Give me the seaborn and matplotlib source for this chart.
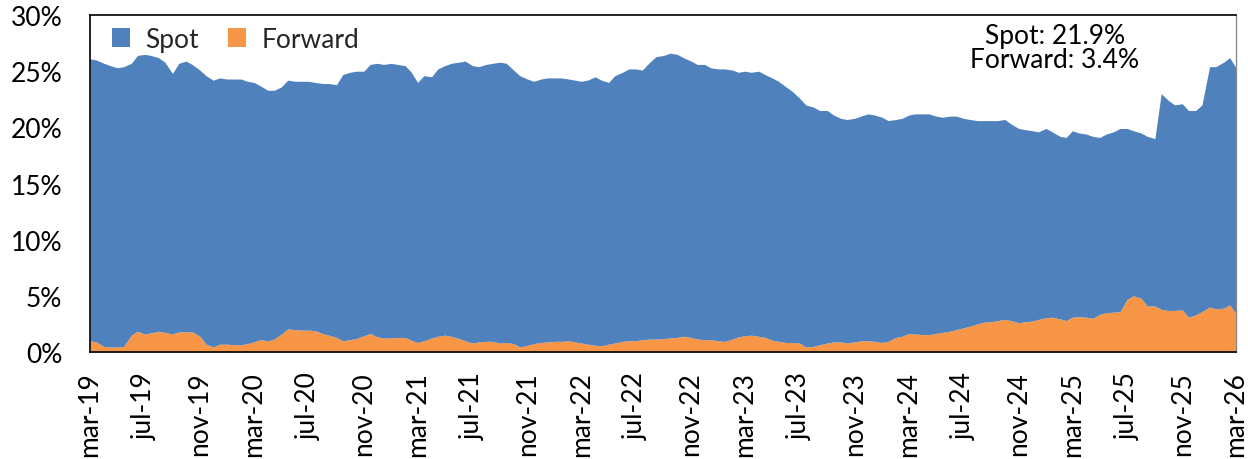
import numpy as np
import pandas as pd
import matplotlib
matplotlib.use("Agg")
import matplotlib.pyplot as plt
import seaborn as sns

# Semi-monthly observations, Mar-2019 .. Mar-2026 (share of total, %)
dates = pd.date_range("2019-03-01", "2026-03-01", freq="SMS")

spot = [
    25.1, 25.1, 25.2, 25.05, 24.85, 24.9, 24.2, 24.55, 24.9, 24.7,
    24.35, 24.05, 23.2, 23.9, 24.1, 23.8, 23.7, 23.9, 23.75, 23.7,
    23.6, 23.65, 23.65, 23.35, 23.1, 22.6, 22.3, 22.15, 22.0, 22.15,
    22.1, 22.15, 22.15, 22.1, 22.25, 22.4, 22.5, 23.7, 23.8, 23.8,
    23.55, 23.95, 24.35, 24.35, 24.45, 24.3, 24.2, 23.85, 23.15, 23.6,
    23.25, 23.8, 24.0, 24.3, 24.6, 24.9, 24.7, 24.5, 24.65, 24.75,
    25.0, 24.85, 24.35, 24.15, 23.7, 23.35, 23.45, 23.5, 23.45, 23.45,
    23.3, 23.3, 23.3, 23.5, 23.9, 23.65, 23.3, 23.8, 23.95, 24.2,
    24.2, 24.0, 24.65, 25.15, 25.2, 25.35, 25.2, 24.8, 24.6, 24.45,
    24.5, 24.2, 24.2, 24.25, 23.95, 23.55, 23.55, 23.4, 23.6, 23.4,
    23.35, 23.15, 22.75, 22.35, 21.8, 21.55, 21.3, 20.85, 20.7, 20.2,
    19.9, 19.9, 19.9, 20.0, 20.2, 20.15, 20.05, 19.65, 19.4, 19.4,
    19.45, 19.6, 19.65, 19.65, 19.35, 19.15, 19.15, 19.0, 18.65, 18.4,
    18.1, 17.95, 17.9, 17.8, 17.8, 17.5, 17.3, 17.1, 16.95, 16.7,
    16.85, 16.5, 16.25, 16.3, 16.6, 16.35, 16.3, 16.2, 15.75, 15.9,
    16.05, 16.3, 15.2, 14.7, 14.7, 15.1, 14.9, 19.2, 18.7, 18.3,
    18.35, 18.4, 18.2, 18.4, 21.4, 21.55, 21.9, 22.0, 21.9,
]

forward = [
    1.0, 0.9, 0.5, 0.45, 0.45, 0.5, 1.5, 1.85, 1.6, 1.7,
    1.85, 1.75, 1.6, 1.8, 1.8, 1.8, 1.4, 0.7, 0.45, 0.7,
    0.7, 0.65, 0.65, 0.75, 0.9, 1.1, 1.0, 1.15, 1.6, 2.05,
    2.0, 1.95, 1.95, 1.9, 1.65, 1.5, 1.3, 1.0, 1.1, 1.2,
    1.45, 1.65, 1.35, 1.25, 1.25, 1.3, 1.3, 1.05, 0.85, 1.0,
    1.25, 1.4, 1.5, 1.4, 1.2, 1.0, 0.8, 0.9, 0.95, 0.95,
    0.8, 0.85, 0.75, 0.45, 0.6, 0.75, 0.85, 0.9, 0.95, 0.95,
    1.0, 0.9, 0.8, 0.7, 0.6, 0.55, 0.7, 0.8, 0.95, 1.0,
    1.0, 1.1, 1.15, 1.15, 1.2, 1.25, 1.3, 1.4, 1.3, 1.15,
    1.1, 1.1, 1.0, 0.95, 1.15, 1.35, 1.45, 1.5, 1.4, 1.3,
    1.05, 0.95, 0.85, 0.85, 0.8, 0.45, 0.5, 0.65, 0.8, 0.9,
    0.9, 0.8, 0.9, 1.0, 1.0, 0.95, 0.85, 0.95, 1.3, 1.4,
    1.65, 1.6, 1.55, 1.55, 1.65, 1.75, 1.85, 2.0, 2.15, 2.3,
    2.5, 2.65, 2.7, 2.8, 2.9, 2.8, 2.6, 2.7, 2.75, 2.9,
    3.05, 3.1, 2.95, 2.8, 3.1, 3.15, 3.1, 3.0, 3.35, 3.5,
    3.55, 3.6, 4.7, 5.0, 4.8, 4.1, 4.1, 3.8, 3.7, 3.7,
    3.75, 3.1, 3.3, 3.6, 4.0, 3.85, 3.9, 4.2, 3.4,
]

series_names = ["Spot", "Forward"]
series_colors = ["#4F81BD", "#F79646"]
month_abbr = {3: "mar", 7: "jul", 11: "nov"}

df = pd.DataFrame({"date": dates, "Spot": spot, "Forward": forward})

sns.set_theme(style="white")
plt.rcParams["font.family"] = ["Lato", "DejaVu Sans"]

fig = plt.figure(figsize=(12.48, 4.6), dpi=100)
ax = fig.add_axes([0.0721, 0.2326, 0.9183, 0.7326])

# Forward at the bottom, Spot stacked on top of it
ax.stackplot(df["date"], df["Forward"], df["Spot"],
             colors=[series_colors[1], series_colors[0]],
             labels=[series_names[1], series_names[0]],
             linewidth=0)

ax.set_xlim(dates[0], dates[-1])
ax.set_ylim(0, 30)
ax.set_yticks(range(0, 31, 5))
ax.set_yticklabels([f"{v}%" for v in range(0, 31, 5)])

ticks = pd.date_range("2019-03-01", "2026-03-01", freq="4MS")
ax.set_xticks(ticks)
ax.set_xticklabels([f"{month_abbr[d.month]}-{d.strftime('%y')}" for d in ticks],
                   rotation=90)
ax.tick_params(axis="both", length=0, labelsize=19, colors="black")
ax.tick_params(axis="x", pad=14)
ax.tick_params(axis="y", pad=20)

for side in ["left", "top", "bottom"]:
    ax.spines[side].set_color("black")
    ax.spines[side].set_linewidth(1.2)
ax.spines["right"].set_color("#8c8c8c")
ax.spines["right"].set_linewidth(1.0)
ax.grid(False)

handles, labels = ax.get_legend_handles_labels()
ax.legend(handles[::-1], labels[::-1], loc="upper left", ncol=2,
          frameon=False, fontsize=19, handlelength=0.68, handleheight=0.68,
          handletextpad=0.6, columnspacing=1.1,
          bbox_to_anchor=(0.003, 1.02), borderaxespad=0.3)

ax.text(0.842, 0.905, f"Spot: {spot[-1]:.1f}%\nForward: {forward[-1]:.1f}%",
        transform=ax.transAxes, ha="center", va="center", fontsize=19,
        linespacing=0.95, color="black")

fig.savefig("out.png", dpi=100)
